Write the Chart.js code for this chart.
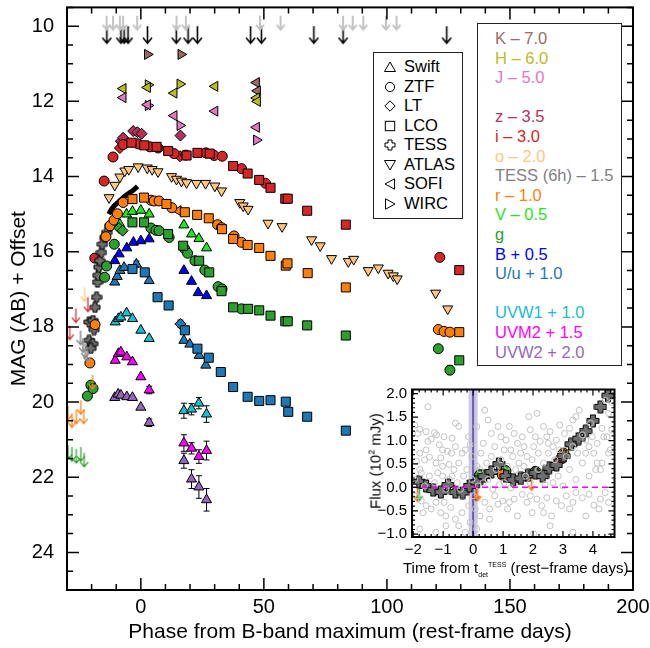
<!DOCTYPE html>
<html>
<head>
<meta charset="utf-8">
<script src="https://cdn.jsdelivr.net/npm/chart.js@4.4.0/dist/chart.umd.min.js"></script>
<style>
  body { margin: 0; background: #fff; font-family: "Liberation Sans", Arial, sans-serif; }
  #wrap { position: relative; width: 650px; height: 648px; }
  #main { position: absolute; left: 0; top: 0; }
  #insetBox { position: absolute; left: 362px; top: 383px; width: 259px; height: 196px; background: #fff; }
  #inset { position: absolute; left: 0; top: 0; }
  .box { position: absolute; border: 1.3px solid #222; background: #fff; box-sizing: border-box; }
  .box div { height: 19.6px; line-height: 19.6px; white-space: nowrap; }
  #inst { left: 373px; top: 52px; width: 90px; height: 167px; padding: 4px 0 0 10px; font-size: 16.5px; }
  #inst div { height: 19.5px; line-height: 19.5px; }
  #inst svg { width: 12px; height: 12px; margin-right: 8px; vertical-align: -1px; }
  #bands { left: 477px; top: 23px; width: 145px; height: 343px; padding: 5px 0 0 17px; font-size: 16.5px; }
  .ititle { position: absolute; font-size: 15px; white-space: nowrap; color: #000; }
  .ititle sub, .ititle sup { font-size: 7px; }
</style>
</head>
<body>
<div id="wrap">
  <canvas id="main" width="650" height="648"></canvas>

  <div class="box" id="inst"></div>
  <div class="box" id="bands"></div>

  <div id="insetBox">
    <canvas id="inset" width="259" height="196"></canvas>
    <div class="ititle" style="left:41px; top:176px;">Time from t<sub>det</sub><sup>TESS</sup> (rest&#8722;frame days)</div>
    <div class="ititle" style="left:13px; top:78px; transform: translate(-50%,-50%) rotate(-90deg);">Flux (10<sup style="font-size:9px">2</sup> mJy)</div>
  </div>
</div>

<script>
// ---------- main light curve: [phase (rest-frame days), mag + offset, error] ----------
const kWirc = [[2.7, 10.75], [16.3, 10.75]];
const kSofi = [[47.0, 11.50], [47.4, 11.72]];
const hWirc = [[3.0, 11.56], [15.9, 11.54]];
const hSofi = [[-7.2, 11.66], [2.7, 11.63], [13.5, 11.78], [30.1, 11.60], [47.0, 11.91], [47.4, 12.00]];
const jWirc = [[3.0, 12.11], [15.9, 12.64], [47.0, 13.03]];
const jSofi = [[-7.2, 11.90], [2.7, 12.09], [13.5, 12.38], [30.1, 12.26], [47.0, 12.69]];

const zLt = [[-8.1, 13.06], [-7.2, 12.97], [-3.1, 12.79], [-1.4, 12.82], [0.3, 12.86], [16.1, 12.91]];

const iZtf = [[-18.7, 16.17], [-14.9, 14.12], [-11.3, 13.48], [-7.2, 13.15], [-1.1, 13.13], [3.7, 13.21],
  [7.0, 13.24], [13.5, 13.39], [18.3, 13.43], [26.4, 13.37], [29.8, 13.44], [33.1, 13.46], [40.9, 13.79],
  [50.7, 14.18], [121.5, 16.15]];
const iLco = [[-3.8, 13.10], [1.4, 13.17], [6.4, 13.21], [11.1, 13.32], [18.6, 13.44], [23.0, 13.37],
  [28.0, 13.39], [37.5, 13.72], [43.4, 13.92], [48.1, 14.09], [52.7, 14.30], [58.7, 14.59], [59.7, 14.59],
  [67.6, 14.91], [83.3, 15.28], [129.4, 16.49]];
const iLt = [[-8.5, 13.24], [15.9, 13.46]];

const oAtlas = [[-12.9, 14.56], [-10.6, 14.23], [-8.5, 14.01], [-6.5, 13.85], [-4.9, 13.81], [-1.1, 13.74],
  [2.6, 13.77], [4.6, 13.81], [7.0, 13.87], [12.5, 14.00], [14.5, 14.07], [16.5, 14.12], [18.6, 14.16],
  [22.6, 14.18], [26.3, 14.18], [30.1, 14.25], [32.8, 14.38], [40.2, 14.69], [41.6, 14.78], [43.6, 14.87],
  [51.7, 15.24], [57.4, 15.33], [69.4, 15.68], [72.9, 15.84], [77.5, 16.18], [84.3, 16.26], [86.5, 16.20],
  [92.4, 16.50], [96.5, 16.43], [100.5, 16.57], [102.6, 16.64], [104.2, 16.72], [119.8, 17.10], [124.7, 17.52]];

const tessFast = [[-13.0, 15.00], [-11.8, 14.86], [-10.5, 14.76], [-9.0, 14.67], [-7.5, 14.58],
  [-6.0, 14.50], [-4.5, 14.43], [-3.0, 14.36], [-1.3, 14.26]];
const tessCross = [[-21.0, 18.36], [-19.6, 18.45], [-20.3, 18.57], [-21.0, 17.87], [-19.0, 18.07],
  [-19.4, 17.83], [-18.6, 17.48], [-18.0, 17.21], [-17.6, 16.81], [-17.4, 16.63], [-17.0, 16.41],
  [-16.7, 16.24], [-16.0, 16.02], [-15.6, 15.80], [-14.6, 15.62], [-13.9, 15.49], [-12.6, 15.31]];

const rZtf = [[-20.7, 18.96], [-18.6, 17.94], [-14.2, 15.60], [-12.5, 15.31], [-10.9, 15.16], [-9.5, 14.99],
  [-7.2, 14.69], [4.1, 14.63], [5.4, 14.65], [7.4, 14.65], [12.6, 14.83], [31.2, 15.28], [32.8, 15.36],
  [37.9, 15.58], [40.9, 15.75], [120.9, 18.07, 0.08], [123.2, 18.12], [125.6, 18.14]];
const rLco = [[-3.4, 14.60], [1.3, 14.56], [10.4, 14.73], [17.9, 14.95], [22.9, 15.02], [27.6, 15.11],
  [33.0, 15.40], [37.5, 15.66], [43.4, 15.82], [48.1, 15.90], [52.7, 16.11], [58.9, 16.37], [59.6, 16.31],
  [67.8, 16.57], [83.3, 16.95], [129.4, 18.14]];
const rSofi = [[15.2, 14.91]];

const vSwift = [[-8.5, 15.27], [-5.8, 15.00], [-3.4, 14.93], [0.0, 14.90], [3.4, 15.00],
  [17.5, 15.29], [20.6, 15.53], [23.6, 15.65], [26.7, 15.90]];

const gZtf = [[-21.7, 19.84], [-20.3, 19.55], [-19.4, 19.64], [-14.7, 16.68], [-13.9, 16.38], [-10.8, 15.80],
  [4.1, 15.37], [6.1, 15.43], [7.4, 15.44], [11.5, 15.62], [17.9, 15.93], [19.0, 16.04], [22.0, 16.24],
  [26.0, 16.49], [31.4, 16.93], [33.0, 16.99], [40.9, 17.52], [120.9, 18.58], [125.6, 19.15, 0.12]];
const gLco = [[-3.4, 15.22], [1.3, 15.22], [11.1, 15.53], [17.2, 15.84], [23.7, 16.24], [27.8, 16.55],
  [32.8, 17.05], [37.5, 17.48], [43.6, 17.52], [48.1, 17.56], [52.7, 17.70], [58.7, 17.85], [59.7, 17.85],
  [67.6, 17.96], [83.3, 18.23], [129.4, 18.89]];
const gLt = [[-8.8, 15.37], [-7.4, 15.44]];

const bSwift = [[-10.6, 16.24], [-8.8, 16.06], [-5.7, 15.90], [-3.0, 15.75], [0.0, 15.71], [3.4, 15.66],
  [17.5, 16.50], [20.6, 16.79], [23.3, 17.09], [26.7, 17.17]];

const uSwift = [[-10.6, 16.81], [-9.6, 16.66], [-8.5, 16.50], [-6.8, 16.42], [-1.8, 16.33, 0.08], [3.4, 16.77],
  [17.5, 18.36], [19.9, 18.46], [23.7, 18.76], [26.4, 19.02]];
const uLco = [[-3.4, 16.46], [1.6, 16.55], [6.8, 17.21], [11.3, 17.43], [17.9, 18.09], [23.0, 18.58],
  [27.6, 18.82], [32.5, 19.20], [37.5, 19.60, 0.1], [43.4, 19.86, 0.06], [48.1, 19.97], [52.7, 19.95],
  [58.9, 19.99], [59.9, 20.26], [67.6, 20.39, 0.06], [83.3, 20.76]];
const uLt = [[16.1, 17.92, 0.1]];

const uvw1Swift = [[-10.4, 17.87], [-9.1, 17.78], [-8.1, 17.74], [-5.8, 17.63], [-3.4, 17.78], [0.0, 18.09],
  [3.4, 18.31], [17.5, 20.23, 0.2], [20.6, 20.19, 0.15], [23.6, 20.03, 0.15], [26.7, 20.32, 0.22]];
const uvm2Swift = [[-10.4, 18.89], [-9.1, 18.71], [-8.1, 18.67], [-5.7, 18.80], [-3.4, 18.93], [0.0, 19.33],
  [3.4, 19.68, 0.1], [17.5, 21.09, 0.22], [20.6, 21.23, 0.15], [23.6, 21.45, 0.18], [26.7, 21.29, 0.25]];
const uvw2Swift = [[-10.6, 19.88], [-9.2, 19.79], [-8.1, 19.82], [-5.7, 19.86], [-3.4, 19.88], [0.0, 20.14],
  [3.4, 20.55, 0.1], [17.5, 21.56, 0.2], [20.6, 22.05, 0.25], [23.6, 22.26, 0.3], [26.7, 22.60, 0.3]];

// upper limits (arrow tail at the limit)
const limI = [[-28.9, 17.96], [-26.4, 17.51], [-21.5, 17.22]];
const limO = [[-22.8, 16.95]];
const limTess = [[-24.5, 18.10], [-23.5, 18.30], [-22.6, 18.45], [-21.8, 18.55]];
const limR = [[-29.6, 20.10], [-28.0, 20.30], [-26.2, 20.20], [-24.4, 19.95], [-23.2, 20.20], [-19.6, 19.28]];
const limG = [[-29.6, 21.15], [-28.0, 21.20], [-26.2, 21.25], [-24.4, 21.20], [-23.0, 21.35]];

// epochs marked along the top of the panel
const epochsBlack = [[-13.8, 10.0], [-8.1, 10.0], [-6.8, 10.0], [-5.2, 10.0], [2.7, 10.0], [14.4, 10.0],
  [19.2, 10.0], [23.0, 10.0], [44.6, 10.0], [49.0, 10.0], [70.3, 10.0], [82.2, 10.0], [124.3, 10.0]];
const epochsGray = [[-13.9, 9.72], [-11.3, 9.72], [-8.5, 9.72], [-7.2, 9.72], [-1.5, 9.72], [14.5, 9.72],
  [18.3, 9.72], [48.4, 9.72], [56.8, 9.72], [82.2, 9.72], [86.1, 9.72], [90.4, 9.72], [99.6, 9.72], [103.9, 9.72]];

const phaseTicks = [0, 50, 100, 150, 200];
const magTicks = [10, 12, 14, 16, 18, 20, 22, 24];

// ---------- inset: [time from t_det (days), flux (1e2 mJy)] ----------
const tessRaw = [[-1.51,1.72],[-1.95,1.33],[-1.78,1.24],[-1.84,1.15],[-1.57,1.19],[-1.29,1.17],[-1.22,1.12],
  [-0.97,1.08],[-0.70,1.05],[-0.59,1.37],[-0.48,1.30],[-1.51,0.98],[-1.40,1.03],[-1.13,0.91],[-1.02,0.80],
  [-0.86,0.77],[-0.72,0.73],[-1.78,0.73],[-1.89,0.56],[-1.62,0.59],[-1.46,0.65],[-1.24,0.52],[-1.02,0.45],
  [-0.80,0.49],[-0.64,0.38],[-0.48,0.52],[-0.37,0.73],[-0.26,0.80],[-0.10,0.91],[-0.04,0.66],[0.13,0.45],
  [0.26,0.73],[0.39,1.65],[0.50,1.44],[0.61,1.15],[0.72,0.87],[0.83,1.30],[0.93,1.08],[1.10,1.01],[1.21,1.30],
  [1.26,0.80],[1.37,1.15],[1.48,0.94],[1.59,0.73],[1.70,0.87],[1.80,0.66],[1.91,1.23],[1.86,1.51],[2.13,1.58],
  [2.08,1.08],[2.24,0.98],[2.35,1.30],[2.46,1.08],[2.57,1.19],[2.67,0.87],[2.78,1.01],[2.89,1.33],[3.05,1.15],
  [3.22,1.26],[3.33,1.44],[3.43,1.51],[3.54,1.65],[3.65,1.12],[3.76,1.01],[3.87,0.87],[3.92,1.37],[4.03,0.73],
  [4.14,0.52],[4.25,0.38],[4.30,1.26],[4.36,1.08],[4.41,1.86],[4.52,1.58],[4.58,0.80],[4.63,1.82],
  [-1.89,-0.18],[-1.73,-0.29],[-1.57,-0.39],[-1.40,-0.46],[-1.24,-0.32],[-1.08,-0.54],[-0.91,-0.61],
  [-0.75,-0.43],[-0.59,-0.68],[-0.48,-0.82],[-0.37,-0.54],[-0.26,-0.96],[-0.10,-0.75],[0.07,-0.46],
  [0.23,-0.61],[0.39,-0.32],[0.55,-0.46],[0.72,-0.18],[0.83,-0.36],[0.99,-0.29],[1.15,-0.46],[1.37,-0.25],
  [1.48,-0.61],[1.64,-0.15],[1.80,-0.32],[1.97,-0.54],[2.13,-0.25],[2.29,-0.39],[2.46,-0.22],[2.62,-0.61],
  [2.78,-0.29],[2.95,-0.39],[3.11,-0.18],[3.33,-0.32],[3.43,-0.11],[3.65,-0.22],[3.87,-0.15],[4.03,-0.38],
  [4.25,-0.25],[4.41,-0.11],
  [-1.95,0.17],[-1.73,0.31],[-1.46,0.24],[-1.29,0.10],[-1.02,0.24],[-0.80,0.17],[-0.53,0.10],[-0.32,0.24],
  [-0.04,0.17],[0.17,0.03],[0.34,0.10],[0.50,0.17],[0.66,-0.04],[0.88,0.06],[1.04,0.10],[1.26,-0.01],
  [1.42,0.38],[1.70,0.45],[1.91,0.10],[2.18,0.38],[2.40,0.06],[2.67,0.10],[2.84,0.24],[3.00,0.03],[3.22,0.38],
  [3.43,0.17],[3.65,0.52],[3.87,0.24],[4.09,0.38],[4.30,0.52],[4.52,0.73],
  [-1.78,-0.89],[-1.24,-0.96],[-0.91,-0.82],[0.12,-0.89],[2.02,-0.99],[2.57,-0.82],[3.33,-0.96],
  [-1.78,0.38],[-1.62,0.03],[-1.18,0.31],[-0.91,-0.04],[-0.70,0.24],[-0.42,-0.04],[-0.21,0.38],[0.01,-0.18],
  [0.23,0.38],[0.45,0.52],[0.61,0.66],[0.77,0.38],[0.93,0.59],[1.15,0.45],[1.32,0.66],[1.53,0.52],[1.75,0.24],
  [1.97,0.59],[2.18,0.73],[2.35,0.52],[2.51,0.73],[2.73,0.59],[2.89,0.80],[3.11,0.66],[3.33,0.87],[3.49,0.73],
  [3.76,0.73],[3.98,1.08],[4.14,0.94],[4.47,1.08],[4.63,1.23],[-1.57,0.80],[-1.08,0.63],[-0.59,0.87],
  [-0.15,1.08],[0.12,1.30],[0.34,0.94],[1.04,0.80],[1.64,1.08],[2.02,0.87],[2.51,0.94],[-1.67,-0.54],
  [-0.97,-0.32],[-0.15,-0.39],[0.55,-0.68],[1.21,-0.32],[1.91,-0.18],[2.35,-0.54],[3.22,-0.46],[3.76,-0.61],
  [4.20,-0.46],[4.52,-0.32]];
const tessBinned = [[-1.80,0.12],[-1.57,0.03],[-1.33,-0.06],[-1.08,-0.10],[-0.84,0.05],[-0.59,-0.10],
  [-0.35,-0.11],[-0.12,0.03],[0.12,0.11],[0.37,0.24],[0.61,0.33],[0.86,0.50],[1.10,0.24],[1.34,0.16],
  [1.59,0.19],[1.83,0.26],[2.08,0.31],[2.32,0.24],[2.54,0.42],[2.78,0.48],[3.02,0.67],[3.27,0.92],
  [3.52,1.04],[3.76,1.20],[4.00,1.42],[4.25,1.72],[4.50,1.96]];
const fluxG = [[0.23, 0.26], [1.08, 0.35], [2.08, 0.33]];
const fluxR = [[0.99, 0.27], [3.02, 0.72]];
const fluxI = [[2.95, 0.62]];
const fluxLimG = [[-1.80, 0.00]];
const fluxLimR = [[-1.86, -0.02], [0.16, 0.00], [1.95, 0.22]];
const fluxLimI = [[0.10, 0.00]];
const tDet = 0.0, tDetErr = 0.15, zeroFlux = 0.0;
const timeTicks = [-2, -1, 0, 1, 2, 3, 4];
const fluxTicks = [-1, -0.5, 0, 0.5, 1, 1.5, 2];

const C = {
  K: '#9c6b5e', H: '#bcbd22', J: '#e377c2', z: '#b5305e', i: '#d62728', o: '#ffc77d',
  tess: '#808080', r: '#ff7f0e', V: '#1ee81e', g: '#2ca02c', B: '#0000ff', U: '#1f77b4',
  uvw1: '#17becf', uvm2: '#ff00ff', uvw2: '#9467bd'
};

// ---------- legends ----------
const icons = {
  up: '<polygon points="6,1 11.5,10.5 0.5,10.5"/>',
  circ: '<circle cx="6" cy="6" r="4.6"/>',
  dia: '<polygon points="6,0.8 11.2,6 6,11.2 0.8,6"/>',
  sq: '<rect x="1.3" y="1.3" width="9.4" height="9.4"/>',
  plus: '<polygon points="4,1 8,1 8,4 11,4 11,8 8,8 8,11 4,11 4,8 1,8 1,4 4,4"/>',
  down: '<polygon points="0.5,1.5 11.5,1.5 6,11"/>',
  left: '<polygon points="1,6 10.5,0.8 10.5,11.2"/>',
  right: '<polygon points="1.5,0.8 11,6 1.5,11.2"/>'
};
const instruments = [['up', 'Swift'], ['circ', 'ZTF'], ['dia', 'LT'], ['sq', 'LCO'], ['plus', 'TESS'],
  ['down', 'ATLAS'], ['left', 'SOFI'], ['right', 'WIRC']];
document.getElementById('inst').innerHTML = instruments.map(([k, t]) =>
  `<div><svg viewBox="0 0 12 12" fill="none" stroke="#000" stroke-width="1">${icons[k]}</svg>${t}</div>`).join('');

const bandLabels = [['K – 7.0', C.K], ['H – 6.0', C.H], ['J – 5.0', C.J], ['', ''], ['z – 3.5', C.z],
  ['i – 3.0', C.i], ['o – 2.0', C.o], ['TESS (6h) – 1.5', C.tess], ['r – 1.0', C.r], ['V – 0.5', C.V],
  ['g', C.g], ['B + 0.5', C.B], ['U/u + 1.0', C.U], ['', ''], ['UVW1 + 1.0', C.uvw1],
  ['UVM2 + 1.5', C.uvm2], ['UVW2 + 2.0', C.uvw2]];
document.getElementById('bands').innerHTML = bandLabels.map(([t, c]) =>
  `<div style="color:${c}">${t || '&nbsp;'}</div>`).join('');

// ---------- marker helpers ----------
function arrowMark(color, len, lw, head) {
  const c = document.createElement('canvas');
  c.width = Math.ceil(head * 2 + 4);
  c.height = len * 2 + 4;
  const g = c.getContext('2d');
  const cx = c.width / 2, top = len + 2;
  g.strokeStyle = color;
  g.lineWidth = lw;
  g.beginPath();
  g.moveTo(cx, top);
  g.lineTo(cx, top + len);
  g.moveTo(cx - head, top + len - head * 1.2);
  g.lineTo(cx, top + len);
  g.lineTo(cx + head, top + len - head * 1.2);
  g.stroke();
  return c;
}

function crossMark(size, arm, fill) {
  const c = document.createElement('canvas');
  c.width = c.height = size + 2;
  const g = c.getContext('2d');
  const m = (size + 2) / 2, h = size / 2, a = arm / 2;
  g.beginPath();
  g.moveTo(m - a, m - h); g.lineTo(m + a, m - h); g.lineTo(m + a, m - a); g.lineTo(m + h, m - a);
  g.lineTo(m + h, m + a); g.lineTo(m + a, m + a); g.lineTo(m + a, m + h); g.lineTo(m - a, m + h);
  g.lineTo(m - a, m + a); g.lineTo(m - h, m + a); g.lineTo(m - h, m - a); g.lineTo(m - a, m - a);
  g.closePath();
  g.fillStyle = fill;
  g.fill();
  g.strokeStyle = '#000';
  g.lineWidth = 1;
  g.stroke();
  return c;
}

const pts = arr => arr.map(p => ({ x: p[0], y: p[1] }));
const errs = arr => arr.map(p => p[2] || 0);
const shapes = {
  circle: { pointStyle: 'circle', pointRadius: 5 },
  bigCircle: { pointStyle: 'circle', pointRadius: 5.5 },
  square: { pointStyle: 'rect', pointRadius: 6.4 },
  tri: { pointStyle: 'triangle', pointRadius: 5.8 },
  down: { pointStyle: 'triangle', pointRadius: 5.8, pointRotation: 180 },
  left: { pointStyle: 'triangle', pointRadius: 5.8, pointRotation: 270 },
  right: { pointStyle: 'triangle', pointRadius: 5.8, pointRotation: 90 },
  diamond: { pointStyle: 'rectRot', pointRadius: 5.5 }
};

function mk(arr, color, shape) {
  return Object.assign({
    data: pts(arr), yErr: errs(arr),
    pointBackgroundColor: color, pointBorderColor: '#000', pointBorderWidth: 1
  }, shapes[shape]);
}
function lim(arr, mark) {
  return { data: pts(arr), pointStyle: mark, pointRadius: 5 };
}

// ---------- plugins ----------
function frameTicks(o) {
  return {
    id: 'frame_' + o.id,
    afterDraw(chart) {
      const { ctx, chartArea: a, scales: { x, y } } = chart;
      ctx.save();
      ctx.strokeStyle = '#000';
      ctx.lineWidth = o.lw;
      ctx.beginPath();
      for (let k = 0; ; k++) {
        const v = +(o.xFrom + k * o.xStep).toFixed(4);
        if (v > x.max + 1e-6) break;
        if (v < x.min - 1e-6) continue;
        const major = Math.abs(v / o.xMajor - Math.round(v / o.xMajor)) < 1e-6;
        const len = major ? o.major : o.minor;
        const p = x.getPixelForValue(v);
        ctx.moveTo(p, a.bottom); ctx.lineTo(p, a.bottom - len);
        ctx.moveTo(p, a.top); ctx.lineTo(p, a.top + len);
      }
      for (let k = 0; ; k++) {
        const v = +(o.yFrom + k * o.yStep).toFixed(4);
        if (v > Math.max(y.min, y.max) + 1e-6) break;
        if (v < Math.min(y.min, y.max) - 1e-6) continue;
        const major = Math.abs(v / o.yMajor - Math.round(v / o.yMajor)) < 1e-6;
        const len = major ? o.major : o.minor;
        const p = y.getPixelForValue(v);
        ctx.moveTo(a.left, p); ctx.lineTo(a.left + len, p);
        ctx.moveTo(a.right, p); ctx.lineTo(a.right - len, p);
      }
      ctx.stroke();
      ctx.lineWidth = o.frame;
      ctx.strokeRect(a.left, a.top, a.right - a.left, a.bottom - a.top);
      ctx.restore();
    }
  };
}

const errorBars = {
  id: 'errorBars',
  beforeDatasetsDraw(chart) {
    const { ctx, scales: { x, y } } = chart;
    ctx.save();
    ctx.strokeStyle = '#000';
    ctx.lineWidth = 1;
    chart.data.datasets.forEach(d => {
      if (!d.yErr) return;
      d.data.forEach((p, j) => {
        const e = d.yErr[j];
        if (!e) return;
        const px = x.getPixelForValue(p.x);
        const y1 = y.getPixelForValue(p.y - e), y2 = y.getPixelForValue(p.y + e);
        ctx.beginPath();
        ctx.moveTo(px, y1); ctx.lineTo(px, y2);
        ctx.moveTo(px - 3, y1); ctx.lineTo(px + 3, y1);
        ctx.moveTo(px - 3, y2); ctx.lineTo(px + 3, y2);
        ctx.stroke();
      });
    });
    ctx.restore();
  }
};

// keep the plot area where it is: no extra room for edge labels
const fitX = h => s => { s.height = h; s.paddingLeft = 0; s.paddingRight = 0; };
const fitY = w => s => { s.width = w; s.paddingTop = 0; s.paddingBottom = 0; };

Chart.defaults.font.family = '"Liberation Sans", Arial, Helvetica, sans-serif';
Chart.defaults.color = '#000';
Chart.defaults.animation = false;

// ---------- main chart ----------
const crossMain = crossMark(10, 4, '#6e6e6e');
const datasets = [
  lim(epochsGray, arrowMark('#c4c4c4', 14, 2, 4)),
  lim(epochsBlack, arrowMark('#000', 17, 1.6, 4.5)),
  lim(limI, arrowMark(C.i, 14, 1.2, 4)),
  lim(limO, arrowMark(C.o, 14, 1.2, 4)),
  lim(limTess, arrowMark('#8a8a8a', 14, 1.5, 4)),
  lim(limR, arrowMark(C.r, 14, 1.2, 4)),
  lim(limG, arrowMark(C.g, 14, 1.2, 4)),
  mk(uvw2Swift, C.uvw2, 'tri'),
  mk(uvm2Swift, C.uvm2, 'tri'),
  mk(uvw1Swift, C.uvw1, 'tri'),
  mk(uLco, C.U, 'square'),
  mk(uSwift, C.U, 'tri'),
  mk(uLt, C.U, 'diamond'),
  mk(bSwift, C.B, 'tri'),
  mk(gLco, C.g, 'square'),
  mk(gZtf, C.g, 'circle'),
  mk(gLt, C.g, 'diamond'),
  mk(vSwift, C.V, 'tri'),
  mk(rLco, C.r, 'square'),
  mk(rZtf, C.r, 'circle'),
  mk(rSofi, C.r, 'left'),
  { type: 'line', data: pts(tessFast), showLine: true, borderColor: '#000', borderWidth: 5,
    pointRadius: 0, tension: 0.3, fill: false },
  lim(tessCross, crossMain),
  mk(oAtlas, C.o, 'down'),
  mk(iLco, C.i, 'square'),
  mk(iZtf, C.i, 'circle'),
  mk(iLt, C.i, 'diamond'),
  mk(zLt, C.z, 'diamond'),
  mk(jSofi, C.J, 'left'),
  mk(jWirc, C.J, 'right'),
  mk(hSofi, C.H, 'left'),
  mk(hWirc, C.H, 'right'),
  mk(kSofi, C.K, 'left'),
  mk(kWirc, C.K, 'right')
];

new Chart(document.getElementById('main'), {
  type: 'scatter',
  data: { datasets },
  options: {
    responsive: false,
    layout: { padding: { left: 0, right: 17, top: 6, bottom: 0 } },
    plugins: { legend: { display: false }, tooltip: { enabled: false } },
    scales: {
      x: {
        type: 'linear', min: -30, max: 200,
        grid: { display: false, drawTicks: false }, border: { display: false },
        afterBuildTicks: s => { s.ticks = phaseTicks.map(v => ({ value: v })); },
        afterFit: fitX(58),
        ticks: { font: { size: 20 }, padding: 5, maxRotation: 0, callback: v => String(v) },
        title: { display: true, text: 'Phase from B-band maximum (rest-frame days)', font: { size: 21 },
          padding: { top: 0, bottom: 3 } }
      },
      y: {
        type: 'linear', min: 9.5, max: 25, reverse: true,
        grid: { display: false, drawTicks: false }, border: { display: false },
        afterBuildTicks: s => { s.ticks = magTicks.map(v => ({ value: v })); },
        afterFit: fitY(67),
        ticks: { font: { size: 20 }, padding: 13, callback: v => String(v) },
        title: { display: true, text: 'MAG (AB) + Offset', font: { size: 21 }, padding: { top: 7, bottom: 0 } }
      }
    }
  },
  plugins: [errorBars, frameTicks({ id: 'main', lw: 1.5, frame: 2, major: 12, minor: 6,
    xFrom: -30, xStep: 10, xMajor: 50, yFrom: 9.5, yStep: 0.5, yMajor: 2 })]
});

// ---------- inset ----------
const detBand = {
  id: 'detBand',
  beforeDatasetsDraw(chart) {
    const { ctx, chartArea: a, scales: { x } } = chart;
    ctx.save();
    ctx.fillStyle = '#cdc8e6';
    const x1 = x.getPixelForValue(tDet - tDetErr), x2 = x.getPixelForValue(tDet + tDetErr);
    ctx.fillRect(x1, a.top, x2 - x1, a.bottom - a.top);
    ctx.strokeStyle = '#6a5cae';
    ctx.lineWidth = 2;
    ctx.beginPath();
    const xd = x.getPixelForValue(tDet);
    ctx.moveTo(xd, a.top); ctx.lineTo(xd, a.bottom);
    ctx.stroke();
    ctx.restore();
  },
  afterDatasetsDraw(chart) {
    const { ctx, chartArea: a, scales: { y } } = chart;
    ctx.save();
    ctx.strokeStyle = '#ff00ff';
    ctx.lineWidth = 1.5;
    ctx.setLineDash([6, 4]);
    const py = y.getPixelForValue(zeroFlux);
    ctx.beginPath();
    ctx.moveTo(a.left, py); ctx.lineTo(a.right, py);
    ctx.stroke();
    ctx.restore();
  }
};

const minus = s => s.replace('-', '\u2212');
new Chart(document.getElementById('inset'), {
  type: 'scatter',
  data: {
    datasets: [
      { data: pts(tessRaw), pointStyle: 'circle', pointRadius: 3, pointBackgroundColor: 'rgba(0,0,0,0)',
        pointBorderColor: '#c2c2c2', pointBorderWidth: 1 },
      lim(tessBinned, crossMark(12, 5, '#6e6e6e')),
      lim(fluxLimG, arrowMark(C.g, 13, 1.5, 3.5)),
      lim(fluxLimR, arrowMark(C.r, 13, 1.5, 3.5)),
      lim(fluxLimI, arrowMark('#b02020', 13, 1.5, 3.5)),
      mk(fluxI, C.i, 'bigCircle'),
      mk(fluxR, C.r, 'bigCircle'),
      mk(fluxG, C.g, 'bigCircle')
    ]
  },
  options: {
    responsive: false,
    layout: { padding: { left: 0, right: 2, top: 6, bottom: 0 } },
    plugins: { legend: { display: false }, tooltip: { enabled: false } },
    scales: {
      x: {
        type: 'linear', min: -2.04, max: 4.72,
        grid: { display: false, drawTicks: false }, border: { display: false },
        afterBuildTicks: s => { s.ticks = timeTicks.map(v => ({ value: v })); },
        afterFit: fitX(42),
        ticks: { font: { size: 15 }, padding: 4, maxRotation: 0, callback: v => minus(String(v)) }
      },
      y: {
        type: 'linear', min: -1.06, max: 2.09,
        grid: { display: false, drawTicks: false }, border: { display: false },
        afterBuildTicks: s => { s.ticks = fluxTicks.map(v => ({ value: v })); },
        afterFit: fitY(50),
        ticks: { font: { size: 15 }, padding: 5, callback: v => minus(v.toFixed(1)) }
      }
    }
  },
  plugins: [detBand, frameTicks({ id: 'inset', lw: 1.2, frame: 2, major: 6, minor: 3,
    xFrom: -2, xStep: 0.2, xMajor: 1, yFrom: -1, yStep: 0.1, yMajor: 0.5 })]
});
</script>
</body>
</html>
